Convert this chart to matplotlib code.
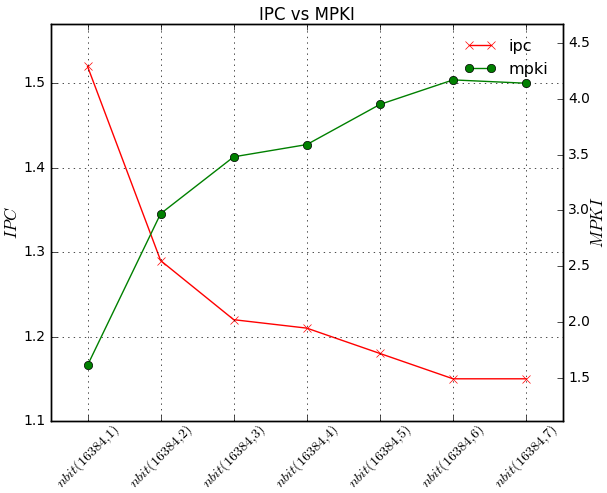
import matplotlib
matplotlib.use('Agg')
import matplotlib.pyplot as plt

plt.style.use('classic')
plt.rcParams['xtick.labelsize'] = 10
plt.rcParams['ytick.labelsize'] = 10

# nbit configurations and the measured values
configs = ['nbit(16384,1)', 'nbit(16384,2)', 'nbit(16384,3)', 'nbit(16384,4)',
           'nbit(16384,5)', 'nbit(16384,6)', 'nbit(16384,7)']
ipc = [1.52, 1.29, 1.22, 1.21, 1.18, 1.15, 1.15]
mpki = [1.61, 2.97, 3.48, 3.59, 3.95, 4.17, 4.14]

x = list(range(1, len(configs) + 1))

fig = plt.figure(figsize=(6.07, 4.93), dpi=100)
ax1 = fig.add_subplot(111)
fig.subplots_adjust(left=0.084, right=0.927, bottom=0.146, top=0.951)

l1, = ax1.plot(x, ipc, 'r-x', label='ipc')
ax1.set_ylabel('$IPC$', fontsize=12)
ax1.yaxis.set_label_coords(-0.058, 0.5)
ax1.set_ylim(min(ipc) - 0.05, max(ipc) + 0.05)
ax1.set_xlim(0.5, len(configs) + 0.5)
ax1.set_xticks(x)
# braces around the comma keep mathtext from adding a space after it
ax1.set_xticklabels(['$' + c.replace(',', '{,}') + '$' for c in configs],
                    rotation=45, fontsize=10.2)
ax1.tick_params(axis='x', pad=0)
ax1.grid(True)

ax2 = ax1.twinx()
l2, = ax2.plot(x, mpki, 'g-o', label='mpki')
ax2.set_ylabel('$MPKI$', fontsize=12)
ax2.yaxis.set_label_coords(1.052, 0.5)
ax2.set_ylim(min(mpki) - 0.5, max(mpki) + 0.5)
ax2.set_xlim(0.5, len(configs) + 0.5)

ax1.set_title('IPC vs MPKI', fontsize=12, pad=3)
ax2.legend([l1, l2], ['ipc', 'mpki'], loc='upper right', frameon=False,
           numpoints=2, fontsize=11.5)

plt.savefig('out.png', dpi=100)
